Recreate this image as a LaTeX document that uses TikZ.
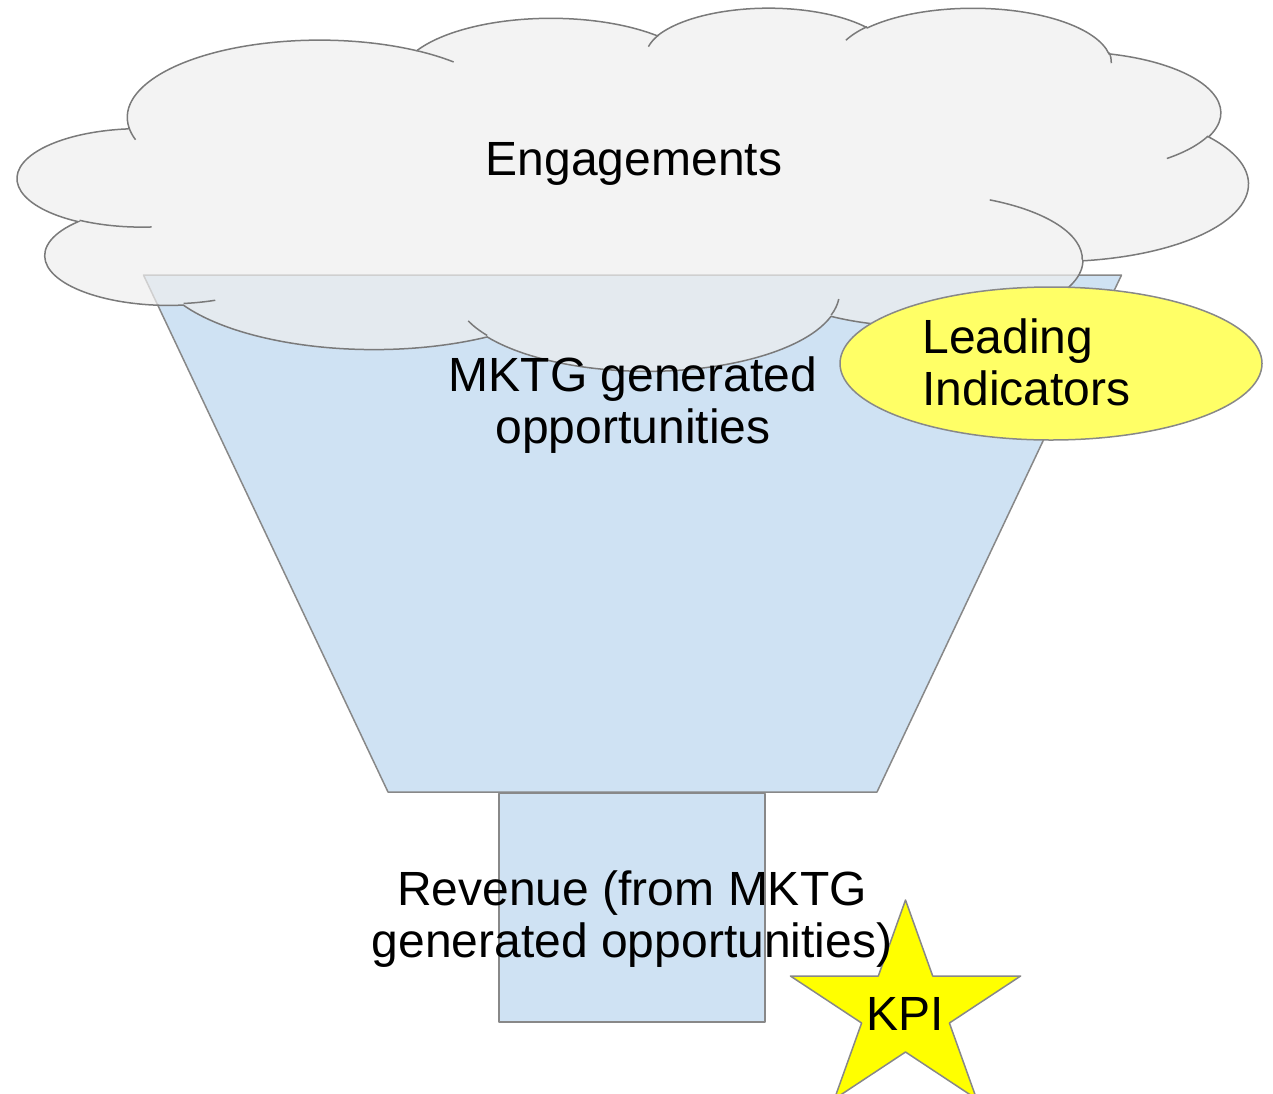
\documentclass[tikz,border=0pt]{standalone}
\usepackage{fontspec}
\setmainfont{Liberation Sans}

\definecolor{funnelblue}{HTML}{CFE2F3}
\definecolor{cloudgray}{HTML}{EEEEEE}
\definecolor{edgegray}{HTML}{888888}
\definecolor{cloudedge}{HTML}{7A7A7A}
\definecolor{paleyellow}{HTML}{FFFF66}
\definecolor{staryellow}{HTML}{FFFF00}

\begin{document}
\begin{tikzpicture}[x=0.5pt, y=-0.5pt,
  % visual (DrawingML) arc angle -> parametric ellipse angle
  declare function={vp(\ang,\rw,\rh)=\ang+atan2(sin(atan2(\rw*sin(\ang),\rh*cos(\ang))-\ang),cos(atan2(\rw*sin(\ang),\rh*cos(\ang))-\ang));},
  % cloud arc: x radius, y radius, start angle, sweep (visual angles)
  carc/.style n args={4}{insert path={arc[start angle={vp(#3,#1,#2)}, end angle={vp(#3+#4,#1,#2)}, x radius=#1, y radius=#2]}},
  shapeline/.style={draw=edgegray, line width=0.75pt, line join=round},
  funnelpart/.style={shapeline, fill=funnelblue},
  cloudbody/.style={draw=cloudedge, line width=0.75pt, fill=cloudgray, fill opacity=0.7, draw opacity=1},
  cloudmark/.style={draw=cloudedge, line width=0.75pt},
  txt/.style={font=\fontsize{24}{26}\selectfont, inner sep=0pt, text=black},
]
\useasboundingbox (0,0) rectangle (1273,1093);

% funnel and its spout
\draw[funnelpart] (143.5,275) -- (1121.5,275) -- (877,792) -- (388,792) -- cycle;
\draw[funnelpart] (499,793.5) rectangle (765,1022);

% cloud outline on a 43.2 x 43.2 grid
\begin{scope}[shift={(18,7)}, xscale=28.4722, yscale=8.4028]
  \path[cloudbody] (3.900,14.370)
    [carc={6.753}{9.190}{-190.4875}{123.7805}]
    [carc={5.333}{7.267}{-144.1024}{89.9452}]
    [carc={4.365}{5.945}{-145.8079}{99.7230}]
    [carc={4.857}{6.595}{-130.9861}{117.2417}]
    [carc={5.333}{7.273}{-78.7089}{109.0269}]
    [carc={6.775}{9.220}{-46.2673}{130.2690}]
    [carc={5.785}{7.867}{0.6250}{114.0333}]
    [carc={6.752}{9.215}{22.4516}{115.1726}]
    [carc={7.720}{10.543}{66.2426}{75.7110}]
    [carc={4.360}{5.918}{-274.9421}{146.7356}]
    [carc={4.345}{5.945}{-246.8285}{152.5189}]
    -- cycle;
  % inner lobe strokes
  \draw[cloudmark] (4.693,26.177) [carc={4.345}{5.945}{86.7420}{26.4295}];
  \draw[cloudmark] (6.928,34.899) [carc={4.360}{5.918}{73.6105}{11.4475}];
  \draw[cloudmark] (16.478,39.090) [carc={6.752}{9.215}{137.6242}{14.0811}];
  \draw[cloudmark] (28.827,34.751) [carc={6.752}{9.215}{6.4533}{15.9984}];
  \draw[cloudmark] (34.129,22.954) [carc={5.785}{7.867}{-70.2924}{70.9174}];
  \draw[cloudmark] (41.798,15.354) [carc={5.333}{7.273}{30.3180}{27.7515}];
  \draw[cloudmark] (38.324,5.426) [carc={4.857}{6.595}{-13.7443}{14.8589}];
  \draw[cloudmark] (29.078,3.952) [carc={4.857}{6.595}{-149.1815}{18.1954}];
  \draw[cloudmark] (22.141,4.720) [carc={4.365}{5.945}{-163.4943}{17.6864}];
  \draw[cloudmark] (14.000,5.192) [carc={6.753}{9.190}{-66.7070}{12.3194}];
  \draw[cloudmark] (4.127,15.789) [carc={6.753}{9.190}{157.6544}{11.8582}];
\end{scope}

% leading indicators bubble
\draw[shapeline, fill=paleyellow] (1051,363.5) ellipse [x radius=211, y radius=76.5];

% KPI star
\draw[shapeline, fill=staryellow]
  (905.5,900) -- (932.7,976) -- (1020.6,976) -- (949.4,1023) -- (976.6,1099)
  -- (905.5,1052) -- (834.4,1099) -- (861.6,1023) -- (790.4,976) -- (878.3,976) -- cycle;

% labels (multi-line nodes sit on the baseline of their last line)
\node[txt, anchor=base] (engage) at (634,175) {Engagements};
\node[txt, align=center, anchor=base] (mktg) at (633,443) {MKTG generated\\opportunities};
\node[txt, align=left, anchor=base west] (leading) at (922,405) {Leading\\Indicators};
\node[txt, align=center, anchor=base] (revenue) at (632,957) {Revenue (from MKTG\\generated opportunities)};
\node[txt, anchor=base] (kpi) at (905.5,1030) {KPI};
\end{tikzpicture}
\end{document}
